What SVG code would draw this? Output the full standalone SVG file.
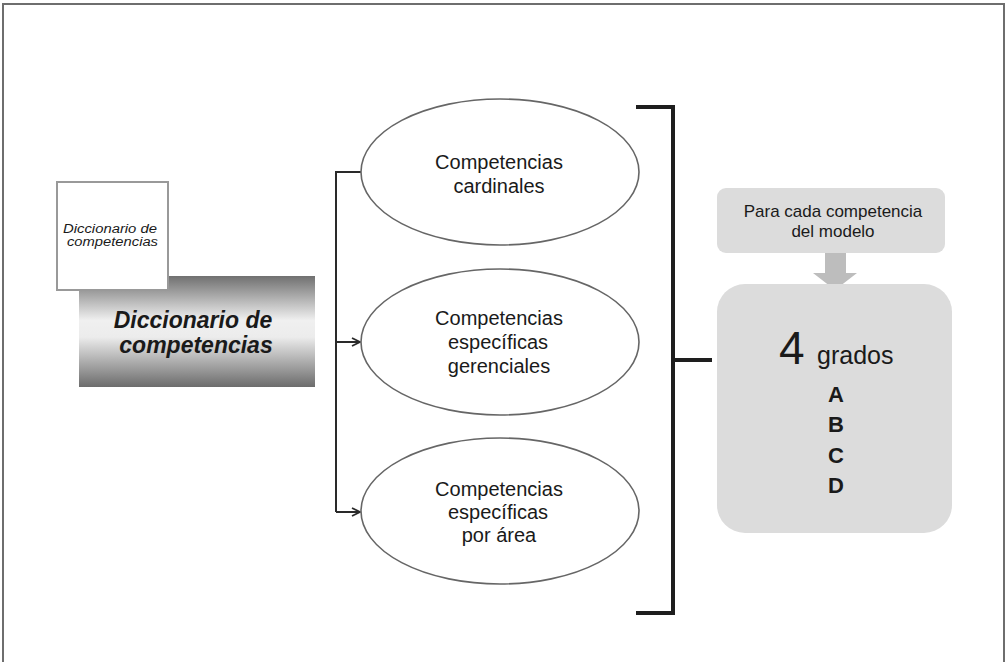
<svg xmlns="http://www.w3.org/2000/svg" width="1006" height="662" viewBox="0 0 1006 662">
<style>
.t{font-family:"Liberation Sans",Arial,sans-serif;fill:#1a1a1a}
.ell{fill:#fff;stroke:#666;stroke-width:1.6}
.conn{fill:none;stroke:#2a2a2a;stroke-width:2}
.gray{fill:#dcdcdc}
</style>
<defs>
<linearGradient id="gr" x1="0" y1="0" x2="0" y2="1">
<stop offset="0" stop-color="#707070"/>
<stop offset="0.4" stop-color="#f0f0f0"/>
<stop offset="0.55" stop-color="#ececec"/>
<stop offset="1" stop-color="#6c6c6c"/>
</linearGradient>
<marker id="arr" viewBox="0 0 10 10" refX="9" refY="5" markerWidth="10" markerHeight="10" markerUnits="userSpaceOnUse" orient="auto">
<path d="M1,1 L9,5 L1,9" fill="none" stroke="#2a2a2a" stroke-width="1.8"/>
</marker>
</defs>
<rect x="3" y="4" width="1001" height="700" fill="#fff" stroke="#6e6e6e" stroke-width="2"/>

<g id="dictionary">
<rect x="79" y="276" width="236" height="111" fill="url(#gr)"/>
<text class="t" x="193" y="328" font-size="23" font-weight="bold" font-style="italic" text-anchor="middle">Diccionario de</text>
<text class="t" x="196" y="353" font-size="23" font-weight="bold" font-style="italic" text-anchor="middle">competencias</text>
</g>
<g id="doc">
<rect x="57" y="182" width="111" height="108" fill="#fff" stroke="#999" stroke-width="2"/>
<text class="t" x="63" y="233" font-size="12" font-style="italic" textLength="94" lengthAdjust="spacingAndGlyphs">Diccionario de</text>
<text class="t" x="67" y="246" font-size="12" font-style="italic" textLength="91" lengthAdjust="spacingAndGlyphs">competencias</text>
</g>

<g id="connectors">
<path class="conn" d="M361,172 H336 V512"/>
<path class="conn" d="M336,342 H360" marker-end="url(#arr)"/>
<path class="conn" d="M336,512 H360" marker-end="url(#arr)"/>
<path d="M636,107 H673 V613 H636 M673,360 H712" fill="none" stroke="#1e1e1e" stroke-width="4"/>
</g>

<g id="cardinales">
<ellipse class="ell" cx="500" cy="172" rx="139" ry="73"/>
<text class="t" x="499" y="169" font-size="20" text-anchor="middle">Competencias</text>
<text class="t" x="499" y="193" font-size="20" text-anchor="middle">cardinales</text>
</g>
<g id="gerenciales">
<ellipse class="ell" cx="500" cy="342" rx="139" ry="73"/>
<text class="t" x="499" y="325" font-size="20" text-anchor="middle">Competencias</text>
<text class="t" x="498" y="349" font-size="20" text-anchor="middle">específicas</text>
<text class="t" x="499" y="373" font-size="20" text-anchor="middle">gerenciales</text>
</g>
<g id="porarea">
<ellipse class="ell" cx="500" cy="511" rx="139" ry="73"/>
<text class="t" x="499" y="496" font-size="20" text-anchor="middle">Competencias</text>
<text class="t" x="498" y="519" font-size="20" text-anchor="middle">específicas</text>
<text class="t" x="499" y="542" font-size="20" text-anchor="middle">por área</text>
</g>

<g id="para-cada">
<rect class="gray" x="717" y="188" width="228" height="65" rx="9"/>
<text class="t" x="833" y="217" font-size="17" text-anchor="middle">Para cada competencia</text>
<text class="t" x="833" y="237" font-size="17" text-anchor="middle">del modelo</text>
</g>
<g id="down-arrow">
<path d="M825,253 H846 V273 H857 L835,290 L813,273 H825 Z" fill="#bdbdbd"/>
</g>
<g id="grados">
<rect class="gray" x="717" y="284" width="235" height="249" rx="28"/>
<text class="t" x="779" y="364" font-size="46">4</text>
<text class="t" x="817" y="364" font-size="25">grados</text>
<text class="t" x="836" y="402" font-size="22" font-weight="bold" text-anchor="middle">A</text>
<text class="t" x="836" y="432" font-size="22" font-weight="bold" text-anchor="middle">B</text>
<text class="t" x="836" y="463" font-size="22" font-weight="bold" text-anchor="middle">C</text>
<text class="t" x="836" y="493" font-size="22" font-weight="bold" text-anchor="middle">D</text>
</g>
</svg>
